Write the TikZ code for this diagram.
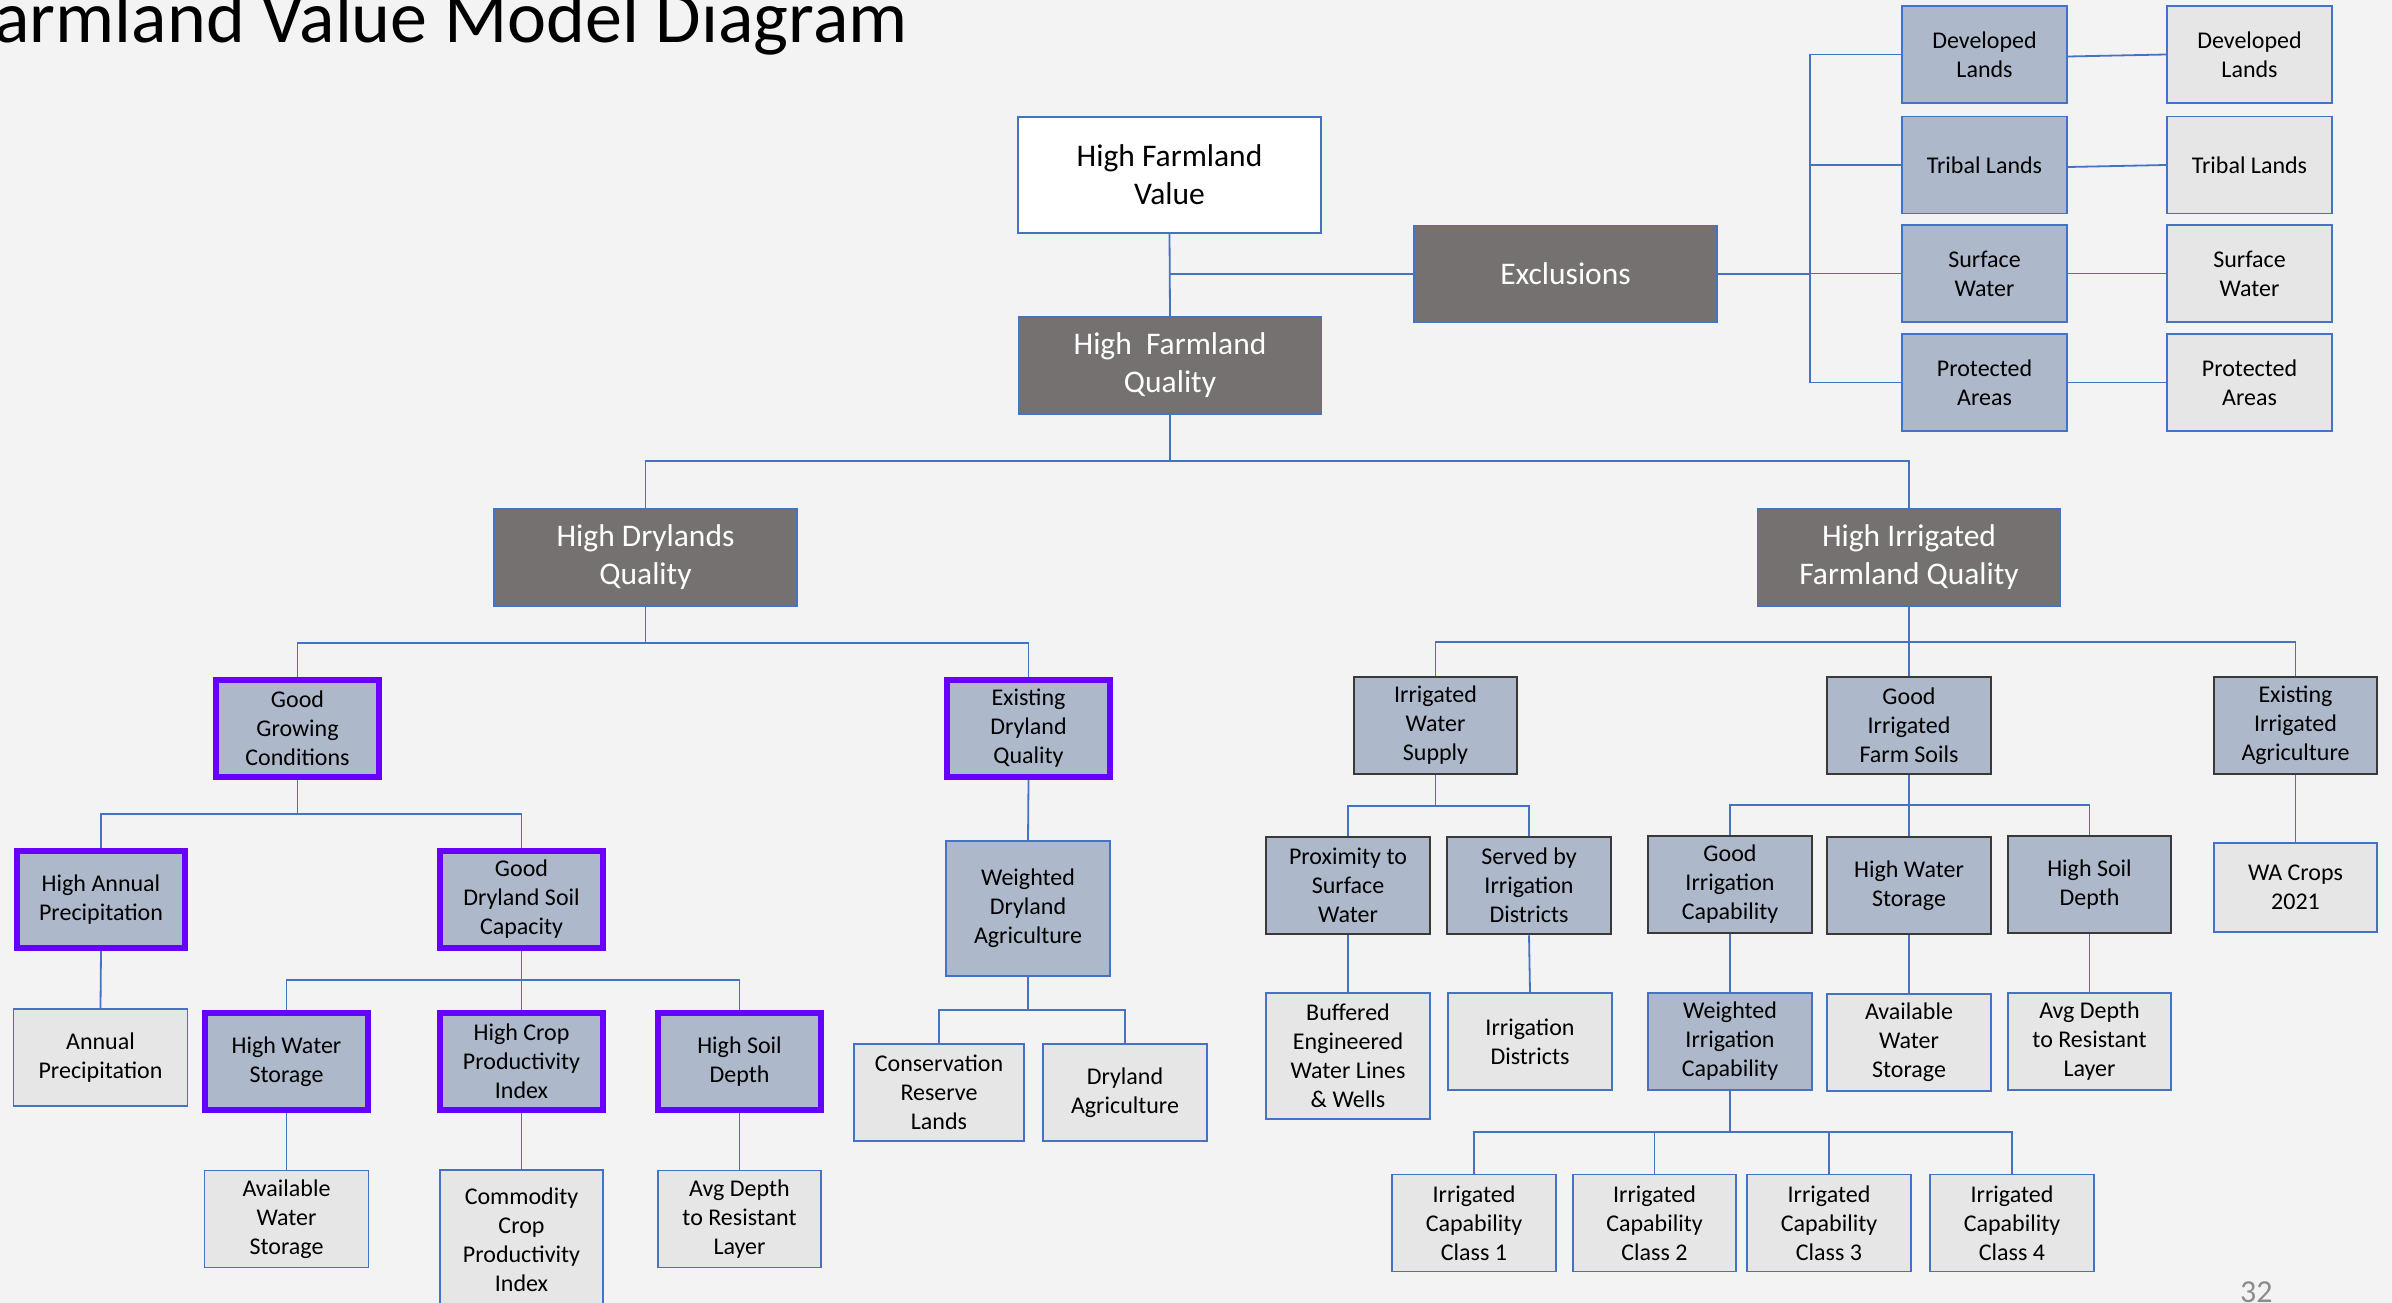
\documentclass[tikz,border=0pt]{standalone}
\usepackage{fontspec}
\setmainfont{Carlito}
\definecolor{bgc}{HTML}{F3F3F3}
\definecolor{darkbox}{HTML}{757171}
\definecolor{bluebox}{HTML}{ADB9CA}
\definecolor{graybox}{HTML}{E7E6E6}
\definecolor{lineblue}{HTML}{4472C4}
\definecolor{purp}{HTML}{6600FF}
\definecolor{darkedge}{HTML}{3B3838}
\definecolor{pagenum}{HTML}{8C8C8C}
\begin{document}
\begin{tikzpicture}[x=1pt,y=-1pt,
  base/.style={inner sep=0pt, align=center, minimum width=164, minimum height=97,
    font=\fontsize{24}{29}\selectfont, text=black},
  bigbox/.style={base, draw=lineblue, line width=1.8, fill=darkbox, text=white,
    minimum width=303, minimum height=97, font=\fontsize{31.5}{38}\selectfont},
  whitebox/.style={bigbox, fill=white, text=black, minimum height=116},
  bbox/.style={base, draw=lineblue, line width=1.8, fill=bluebox},
  bdark/.style={base, draw=darkedge, line width=2.5, fill=bluebox},
  gbox/.style={base, draw=lineblue, line width=1.8, fill=graybox},
  pbox/.style={base, draw=purp, line width=6, fill=bluebox, minimum width=163},
  conn/.style={draw=lineblue, line width=1.8}]
\useasboundingbox (0,0) rectangle (2392,1303);
\clip (0,0) rectangle (2392,1303);
\fill[bgc] (0,0) rectangle (2392,1303);

% title and page number
\node[anchor=base east, inner sep=0pt, font=\fontsize{74}{82}\selectfont] (title) at (908,43) {armland Value Model Diagram};
\node[anchor=base west, inner sep=0pt, text=pagenum, font=\fontsize{32}{36}\selectfont] (pnum) at (2240,1302) {32};

% top
\node[whitebox] (hfv) at (1169.5,175) {High Farmland\\Value};
\node[bigbox] (hfq) at (1170,365.5) {High~ Farmland\\Quality};
\node[bigbox] (excl) at (1565.5,274) {Exclusions};

\node[bbox, minimum width=165] (dl1) at (1984.5,54.5) {Developed\\Lands};
\node[bbox, minimum width=165] (tl1) at (1984.5,165) {Tribal Lands};
\node[bbox, minimum width=165] (sw1) at (1984.5,273.5) {Surface\\Water};
\node[bbox, minimum width=165] (pa1) at (1984.5,382.5) {Protected\\Areas};
\node[gbox, minimum width=165] (dl2) at (2249.5,54.5) {Developed\\Lands};
\node[gbox, minimum width=165] (tl2) at (2249.5,165) {Tribal Lands};
\node[gbox, minimum width=165] (sw2) at (2249.5,273.5) {Surface\\Water};
\node[gbox, minimum width=165] (pa2) at (2249.5,382.5) {Protected\\Areas};

% level 2
\node[bigbox] (hdq) at (645.5,557.5) {High Drylands\\Quality};
\node[bigbox] (hifq) at (1909,557.5) {High Irrigated\\Farmland Quality};

% level 3
\node[pbox] (ggc) at (297.5,728.5) {Good\\Growing\\Conditions};
\node[pbox] (edq) at (1028.5,728.5) {Existing\\Dryland\\Quality};
\node[bdark, minimum width=163] (iws) at (1435.5,725.5) {Irrigated\\Water\\Supply};
\node[bdark] (gifs) at (1909,725.5) {Good\\Irrigated\\Farm Soils};
\node[bdark, minimum width=163] (eia) at (2295.5,725.5) {Existing\\Irrigated\\Agriculture};

% level 4
\node[pbox, minimum width=168] (hap) at (101,899.5) {High Annual\\Precipitation};
\node[pbox] (gdsc) at (521.5,899.5) {Good\\Dryland Soil\\Capacity};
\node[bbox, minimum height=135] (wda) at (1028,908.5) {Weighted\\Dryland\\Agriculture};
\node[bdark] (prox) at (1348,885.5) {Proximity to\\Surface\\Water};
\node[bdark] (served) at (1529,885.5) {Served by\\Irrigation\\Districts};
\node[bdark] (gic) at (1730,884.5) {Good\\Irrigation\\Capability};
\node[bdark] (hws2) at (1909,885.5) {High Water\\Storage};
\node[bdark, minimum width=163] (hsd2) at (2089.5,884.5) {High Soil\\Depth};
\node[gbox, minimum width=163, minimum height=89] (wac) at (2295.5,887.5) {WA Crops\\2021};

% level 5
\node[gbox, minimum width=174] (ap) at (100.5,1057.5) {Annual\\Precipitation};
\node[pbox] (hws1) at (286.5,1061.5) {High Water\\Storage};
\node[pbox] (hcpi) at (521.5,1061.5) {High Crop\\Productivity\\Index};
\node[pbox] (hsd1) at (739.5,1061.5) {High Soil\\Depth};
\node[gbox, minimum width=170] (crl) at (939,1092.5) {Conservation\\Reserve\\Lands};
\node[gbox] (dag) at (1125,1092.5) {Dryland\\Agriculture};
\node[gbox, minimum height=126] (bew) at (1348,1056) {Buffered\\Engineered\\Water Lines\\\& Wells};
\node[gbox] (idist) at (1530,1041.5) {Irrigation\\Districts};
\node[bbox] (wic) at (1730,1041.5) {Weighted\\Irrigation\\Capability};
\node[gbox] (aws2) at (1909,1042.5) {Available\\Water\\Storage};
\node[gbox, minimum width=163] (adrl2) at (2089.5,1041.5) {Avg Depth\\to Resistant\\Layer};

% level 6
\node[gbox] (aws1) at (286.5,1219) {Available\\Water\\Storage};
\node[gbox, minimum width=163, minimum height=140] (ccpi) at (521.5,1240) {Commodity\\Crop\\Productivity\\Index};
\node[gbox, minimum width=163] (adrl1) at (739.5,1219) {Avg Depth\\to Resistant\\Layer};
\node[gbox] (icc1) at (1474,1223) {Irrigated\\Capability\\Class 1};
\node[gbox, minimum width=163] (icc2) at (1654.5,1223) {Irrigated\\Capability\\Class 2};
\node[gbox] (icc3) at (1829,1223) {Irrigated\\Capability\\Class 3};
\node[gbox] (icc4) at (2012,1223) {Irrigated\\Capability\\Class 4};

% bus coordinates
\coordinate (busX) at (1810,274);
\coordinate (busA) at (1170,461);
\coordinate (busB) at (645.5,643);
\coordinate (busC) at (1909,642);
\coordinate (busD) at (297.5,814);
\coordinate (busE) at (521.5,980);
\coordinate (busF) at (1028,1010);
\coordinate (busG) at (1435.5,806);
\coordinate (busH) at (1909,805);
\coordinate (busW) at (1730,1132);

% connectors
\draw[conn] (hfv.south) -- (hfq.north);
\draw[conn] (excl.west) -- (excl.west -| hfq.north);
\draw[conn] (excl.east) -- (busX);
\draw[conn] (dl1.west) -- (dl1.west -| busX) -- (pa1.west -| busX) -- (pa1.west);
\draw[conn] (tl1.west) -- (tl1.west -| busX);
\draw[conn] (sw1.west) -- (sw1.west -| busX);
\draw[conn] ([yshift=-2pt]dl1.east) -- (dl2.west);
\draw[conn] ([yshift=-2pt]tl1.east) -- (tl2.west);
\draw[conn] (sw1.east) -- (sw2.west);
\draw[conn] (pa1.east) -- (pa2.west);

\draw[conn] (hfq.south) -- (busA);
\draw[conn] (hdq.north) |- (busA) -| (hifq.north);

\draw[conn] (hdq.south) -- (busB);
\draw[conn] (ggc.north) |- (busB) -| (edq.north);
\draw[conn] (hifq.south) -- (gifs.north);
\draw[conn] (iws.north) |- (busC) -| (eia.north);

\draw[conn] (ggc.south) -- (busD);
\draw[conn] (hap.north) |- (busD) -| (gdsc.north);
\draw[conn] (edq.south) -- (wda.north);
\draw[conn] (hap.south) -- (ap.north);

\draw[conn] (gdsc.south) -- (hcpi.north);
\draw[conn] (hws1.north) |- (busE) -| (hsd1.north);
\draw[conn] (hws1.south) -- (aws1.north);
\draw[conn] (hcpi.south) -- (ccpi.north);
\draw[conn] (hsd1.south) -- (adrl1.north);

\draw[conn] (wda.south) -- (busF);
\draw[conn] (crl.north) |- (busF) -| (dag.north);

\draw[conn] (iws.south) -- (busG);
\draw[conn] (prox.north) |- (busG) -| (served.north);
\draw[conn] (prox.south) -- (bew.north);
\draw[conn] (served.south) -- (idist.north);

\draw[conn] (gifs.south) -- (hws2.north);
\draw[conn] (gic.north) |- (busH) -| (hsd2.north);
\draw[conn] (gic.south) -- (wic.north);
\draw[conn] (hws2.south) -- (aws2.north);
\draw[conn] (hsd2.south) -- (adrl2.north);
\draw[conn] (eia.south) -- (wac.north);

\draw[conn] (wic.south) -- (busW);
\draw[conn] (icc1.north) |- (busW) -| (icc4.north);
\draw[conn] (icc2.north) -- (icc2.north |- busW);
\draw[conn] (icc3.north) -- (icc3.north |- busW);
\end{tikzpicture}
\end{document}
